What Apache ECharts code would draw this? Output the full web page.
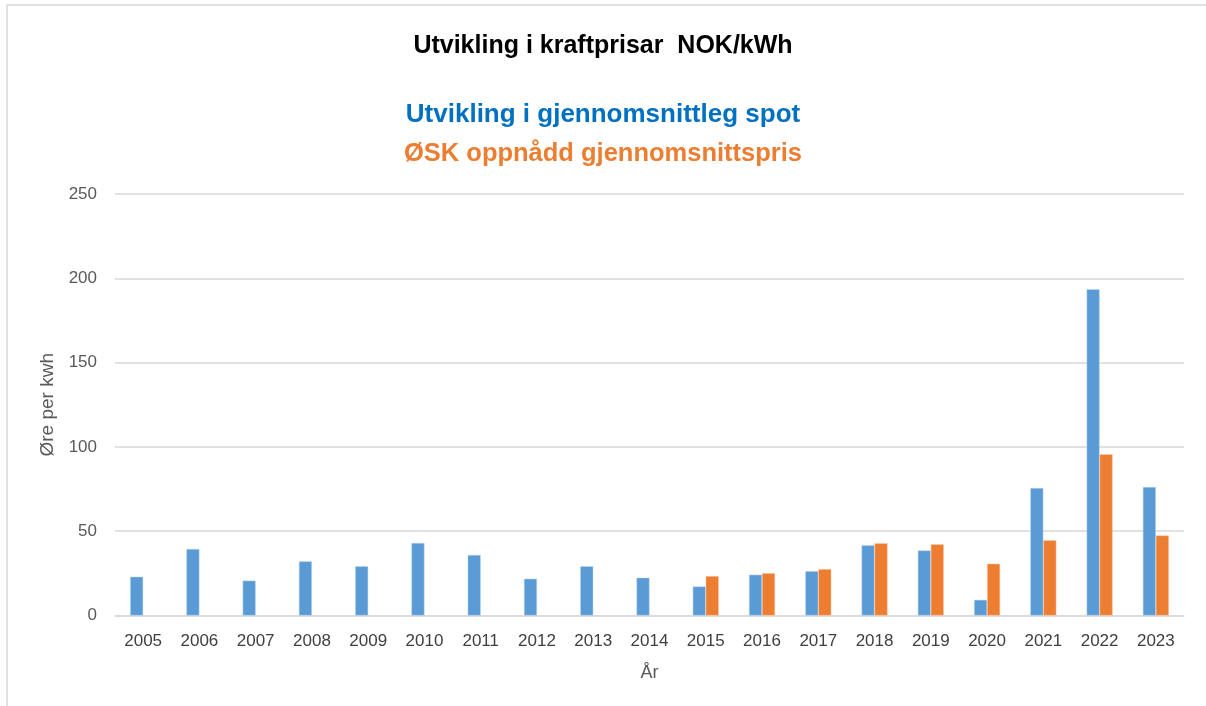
<!DOCTYPE html>
<html>
<head>
<meta charset="utf-8">
<script src="https://cdn.jsdelivr.net/npm/echarts@6/dist/echarts.min.js"></script>
<style>
html,body{margin:0;padding:0;background:#fff;}
#chart{width:1206px;height:706px;}
</style>
</head>
<body>
<div id="chart"></div>
<script>
const years = ['2005','2006','2007','2008','2009','2010','2011','2012','2013','2014','2015','2016','2017','2018','2019','2020','2021','2022','2023'];
const spot = [23.0, 39.4, 20.7, 32.1, 29.2, 43.0, 35.9, 21.8, 29.2, 22.4, 17.2, 24.2, 26.3, 41.6, 38.6, 9.3, 75.6, 193.5, 76.2];
const osk = [null, null, null, null, null, null, null, null, null, null, 23.4, 25.1, 27.5, 42.8, 42.2, 30.7, 44.6, 95.6, 47.5];
const yTicks = [0, 50, 100, 150, 200, 250];

const FONT = '"Liberation Sans", sans-serif';
const chart = echarts.init(document.getElementById('chart'), null, {renderer: 'canvas'});
chart.setOption({
  backgroundColor: '#ffffff',
  animation: false,
  graphic: [{
    type: 'rect',
    shape: {x: 7, y: 5, width: 1220, height: 720},
    style: {fill: 'none', stroke: '#D9D9D9', lineWidth: 1.5},
    silent: true
  }],
  title: [
    {text: 'Utvikling i kraftprisar  NOK/kWh', left: 'center', top: 29,
     textStyle: {fontFamily: FONT, fontWeight: 'bold', fontSize: 25, color: '#000000'}},
    {text: 'Utvikling i gjennomsnittleg spot', left: 'center', top: 97,
     textStyle: {fontFamily: FONT, fontWeight: 'bold', fontSize: 26, color: '#0070C0'}},
    {text: 'ØSK oppnådd gjennomsnittspris', left: 'center', top: 136,
     textStyle: {fontFamily: FONT, fontWeight: 'bold', fontSize: 25.5, color: '#ED7D31'}}
  ],
  grid: {left: 115, right: 22, top: 194, bottom: 90.5, containLabel: false},
  xAxis: {
    type: 'category',
    data: years,
    name: 'År',
    nameLocation: 'middle',
    nameGap: 49,
    nameTextStyle: {fontFamily: FONT, fontSize: 18, color: '#595959'},
    axisLine: {show: true, lineStyle: {color: '#D9D9D9', width: 1.5}},
    axisTick: {show: false},
    axisLabel: {fontFamily: FONT, fontSize: 17, color: '#404040', margin: 17, interval: 0}
  },
  yAxis: {
    type: 'value',
    min: yTicks[0],
    max: yTicks[yTicks.length - 1],
    interval: 50,
    name: 'Øre per kwh',
    nameLocation: 'middle',
    nameGap: 56,
    nameTextStyle: {fontFamily: FONT, fontSize: 19, color: '#595959'},
    axisLine: {show: false},
    axisTick: {show: false},
    splitLine: {lineStyle: {color: '#D9D9D9', width: 1.5}},
    axisLabel: {fontFamily: FONT, fontSize: 17, color: '#595959', margin: 18}
  },
  series: [
    {name: 'Spot', type: 'bar', data: spot, barWidth: 13, barGap: '0%',
     itemStyle: {color: '#5B9BD5', borderColor: '#BDD7EE', borderWidth: 0.5}},
    {name: 'ØSK', type: 'bar', data: osk, barWidth: 13, barGap: '0%',
     itemStyle: {color: '#ED7D31', borderColor: '#F8CBAD', borderWidth: 0.5}}
  ]
});
</script>
</body>
</html>
